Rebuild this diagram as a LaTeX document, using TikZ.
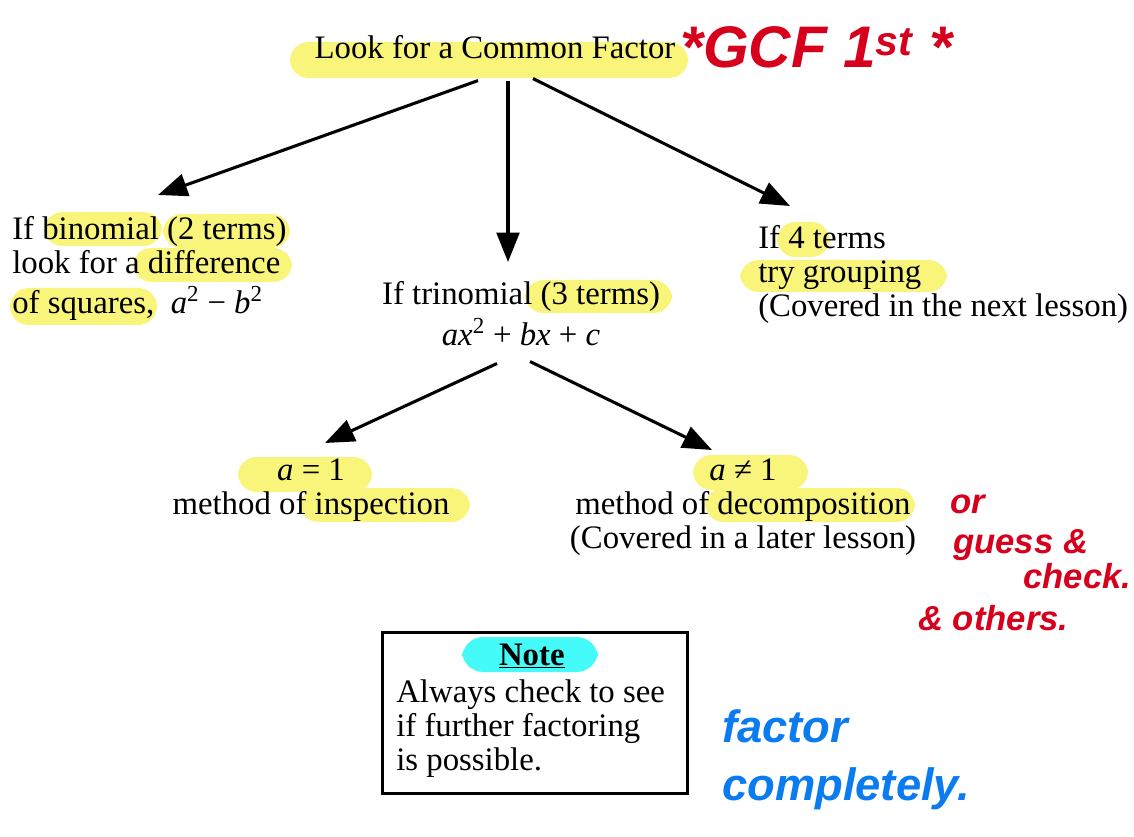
\documentclass[tikz,border=0pt]{standalone}
\usepackage{fontspec}
\setmainfont{Liberation Serif}
\newfontfamily\penfont{Liberation Sans}
\usetikzlibrary{arrows.meta, positioning, calc}
\definecolor{markyellow}{HTML}{F9F57A}
\definecolor{markcyan}{HTML}{45FBFA}
\definecolor{penred}{HTML}{D6001C}
\definecolor{penblue}{HTML}{0B7BF0}

\begin{document}
\begin{tikzpicture}[
  x=0.75pt, y=-0.75pt,
  plain/.style={inner sep=0pt, font=\fontsize{24.6}{25.5}\selectfont},
  lefttext/.style={plain, align=left},
  midtext/.style={plain, align=center},
  notebox/.style={draw, line width=2pt, minimum width=228.75pt, minimum height=120.75pt, inner sep=0pt},
  marker/.style={fill=markyellow, rounded corners=14pt},
  redpen/.style={inner sep=0pt, text=penred, font=\penfont\bfseries\itshape\fontsize{26}{26}\selectfont},
  bluepen/.style={inner sep=0pt, text=penblue, font=\penfont\bfseries\itshape\fontsize{34}{34}\selectfont},
  flow/.style={-{Triangle[length=22pt, width=17pt]}, line width=2.3pt}
]
  \useasboundingbox (0,0) rectangle (1134,837);

  % highlighter marks
  \fill[marker] (290,42) rectangle (688,78);
  \fill[marker] (44,212) rectangle (162,246);
  \fill[marker] (163,214) rectangle (290,248);
  \fill[marker] (133,248) rectangle (292,282);
  \fill[marker] (10,288) rectangle (157,325);
  \fill[marker] (777,222) rectangle (830,257);
  \fill[marker] (740,260) rectangle (947,292);
  \fill[marker] (525,280) rectangle (672,313);
  \fill[marker] (238,457) rectangle (372,492);
  \fill[marker] (300,488) rectangle (470,522);
  \fill[marker] (693,455) rectangle (808,490);
  \fill[marker] (705,488) rectangle (915,522);
  \fill[markcyan, rounded corners=16pt] (462,637) rectangle (598,672);

  % top
  \node[plain, anchor=base] (common) at (495,59) {Look for a Common Factor};

  % cases
  \node[lefttext, anchor=north west] (binom) at (12,216)
    {If binomial (2 terms)\\look for a difference\\[4.5pt]of squares,\ \ \textit{a}\textsuperscript{2} − \textit{b}\textsuperscript{2}};
  \node[midtext, anchor=north] (tri) at (521,281)
    {If trinomial (3 terms)\\[4.5pt]\textit{ax}\textsuperscript{2} + \textit{bx} + \textit{c}};
  \node[lefttext, anchor=north west] (four) at (758,225)
    {If 4 terms\\try grouping\\(Covered in the next lesson)};

  % trinomial cases
  \node[midtext, anchor=north] (insp) at (311,459)
    {\textit{a} = 1\\method of inspection};
  \node[midtext, anchor=north] (decomp) at (743,459)
    {\textit{a} ≠ 1\\method of decomposition\\(Covered in a later lesson)};

  % note
  \node[notebox, anchor=north west] (notebox) at (381,631) {};
  \node[plain, anchor=base] (notehead) at ($(notebox.north)+(-3,34)$) {\underline{\textbf{Note}}};
  \node[lefttext, anchor=north west] (notetext) at ($(notebox.north west)+(15,48)$)
    {Always check to see\\if further factoring\\is possible.};

  % arrows
  \draw[flow] ($(common.south)+(-17,21)$) -- ($(binom.north west)+(146,-21)$);
  \draw[flow] ($(common.south)+(13,21)$) -- ($(tri.north)+(-13,-19)$);
  \draw[flow] ($(common.south)+(38,19)$) -- ($(four.north west)+(32,-19)$);
  \draw[flow] ($(tri.south)+(-24,17)$) -- ($(insp.north)+(14,-16)$);
  \draw[flow] ($(tri.south)+(9,15)$) -- ($(decomp.north)+(-31,-9)$);

  % pen notes
  \node[redpen, anchor=base west, font=\penfont\bfseries\itshape\fontsize{44}{44}\selectfont] (gcf) at (680,68) {*GCF 1\textsuperscript{st} *};
  \node[redpen, anchor=base west] (orr) at (950,513) {or};
  \node[redpen, anchor=base west] (guess) at (953,553) {guess \&};
  \node[redpen, anchor=base west] (check) at (1023,588) {check.};
  \node[redpen, anchor=base west] (others) at (918,630) {\& others.};
  \node[bluepen, anchor=base west] (factor) at (722,742) {factor};
  \node[bluepen, anchor=base west] (complete) at (722,800) {completely.};
\end{tikzpicture}
\end{document}
